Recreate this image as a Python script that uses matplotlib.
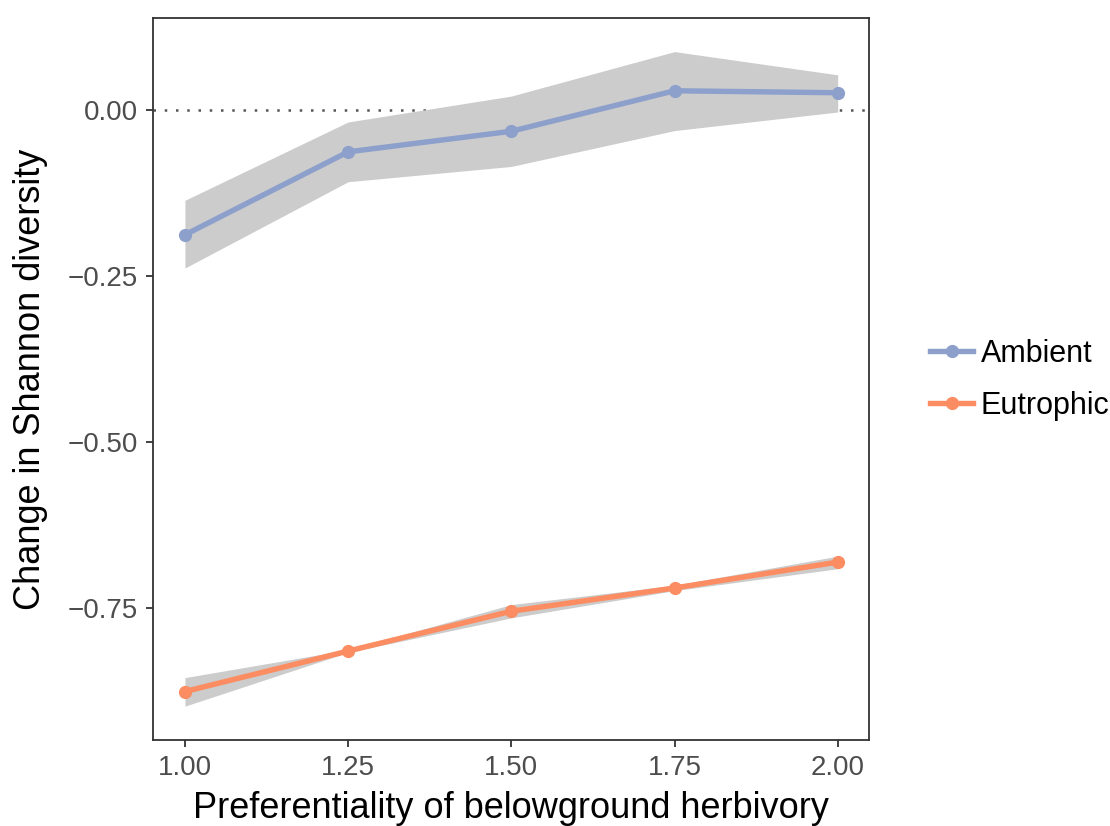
import numpy as np
import matplotlib
matplotlib.use("Agg")
import matplotlib.pyplot as plt
from matplotlib.lines import Line2D

plt.rcParams['font.family'] = ['Liberation Sans', 'DejaVu Sans']

# preferentiality levels on the x axis
preference = [1.00, 1.25, 1.50, 1.75, 2.00]

# mean change in Shannon diversity with confidence band, per nutrient level
ambient_mean = [-0.188, -0.063, -0.032, 0.029, 0.026]
ambient_low = [-0.238, -0.108, -0.085, -0.031, -0.003]
ambient_high = [-0.136, -0.018, 0.021, 0.088, 0.053]

eutrophic_mean = [-0.876, -0.815, -0.755, -0.720, -0.681]
eutrophic_low = [-0.898, -0.817, -0.765, -0.724, -0.691]
eutrophic_high = [-0.855, -0.813, -0.745, -0.716, -0.672]

series_names = ["Ambient", "Eutrophic"]
series_colors = ["#8DA0CB", "#FC8D62"]

x_ticks = [1.00, 1.25, 1.50, 1.75, 2.00]
y_ticks = [0.00, -0.25, -0.50, -0.75]

fig = plt.figure(figsize=(11.1, 8.26), dpi=100)
ax = fig.add_axes([0.1378, 0.1041, 0.6451, 0.8741])

# reference line at zero change
ax.axhline(0, color="#555555", linestyle=(0, (1, 3.5)), linewidth=1.8, zorder=1)

bands = [(ambient_low, ambient_high), (eutrophic_low, eutrophic_high)]
means = [ambient_mean, eutrophic_mean]
for (lo, hi), mean, color in zip(bands, means, series_colors):
    ax.fill_between(preference, lo, hi, color="#CCCCCC", linewidth=0, zorder=2)
    ax.plot(preference, mean, color=color, linewidth=3.9, marker="o",
            markersize=8.5, zorder=3, solid_capstyle="butt")

ax.set_xlim(0.951, 2.048)
ax.set_ylim(-0.949, 0.1386)
ax.set_xticks(x_ticks)
ax.set_xticklabels(["%.2f" % t for t in x_ticks])
ax.set_yticks(y_ticks)
ax.set_yticklabels([("%.2f" % t).replace("-", "\u2212") for t in y_ticks])

for side in ax.spines.values():
    side.set_color("#333333")
    side.set_linewidth(1.3)
ax.tick_params(axis="both", colors="#333333", length=5, width=1.3,
               labelsize=20, labelcolor="#4D4D4D")
ax.tick_params(axis="x", pad=6)
ax.tick_params(axis="y", pad=6)

ax.set_xlabel("Preferentiality of belowground herbivory", fontsize=26, labelpad=7)
ax.set_ylabel("Change in Shannon diversity", fontsize=26, labelpad=14)

handles = [Line2D([0], [0], color=c, linewidth=3.9, marker="o", markersize=8.5)
           for c in series_colors]
fig.legend(handles, series_names, loc="center left", bbox_to_anchor=(0.838, 0.540),
           frameon=False, fontsize=22, handlelength=1.4, handletextpad=0.25,
           labelspacing=0.72, borderpad=0, borderaxespad=0)

fig.savefig("out.png", dpi=100)
